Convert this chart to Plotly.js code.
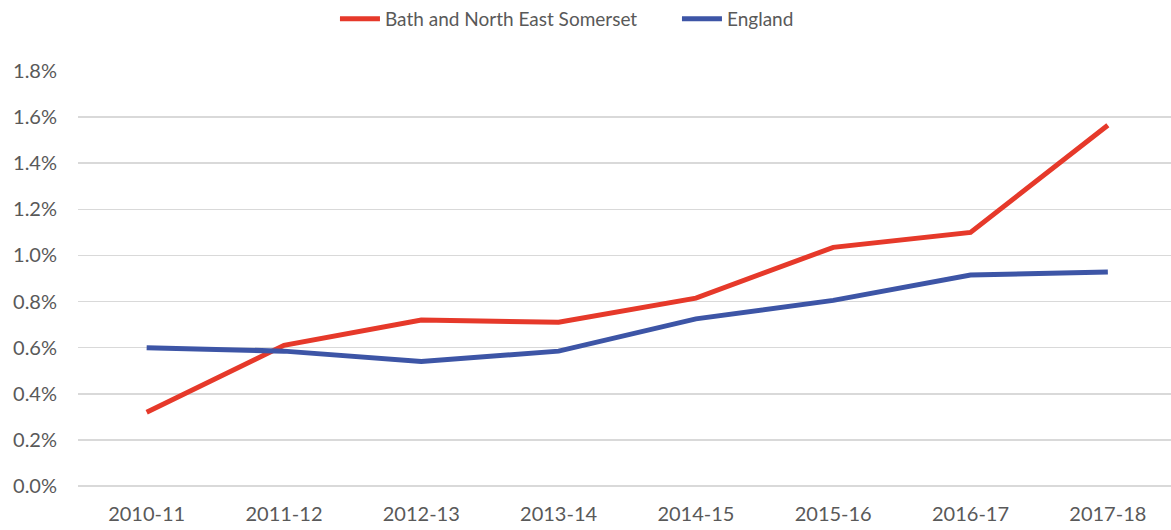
<!DOCTYPE html>
<html>
<head>
<meta charset="utf-8">
<script src="https://cdn.plot.ly/plotly-3.0.1.min.js"></script>
<style>html,body{margin:0;padding:0;background:#fff;}#chart{width:1171px;height:530px;}</style>
</head>
<body>
<div id="chart"></div>
<script>
const years = ["2010-11","2011-12","2012-13","2013-14","2014-15","2015-16","2016-17","2017-18"];
const bathValues = [0.0032,0.0061,0.0072,0.0071,0.00815,0.01035,0.0110,0.01565];
const englandValues = [0.0060,0.00585,0.0054,0.00585,0.00725,0.00805,0.00915,0.00928];
const yTicks = [0,0.002,0.004,0.006,0.008,0.010,0.012,0.014,0.016,0.018];

const font = {family: "Lato, 'Open Sans', sans-serif", size: 20, color: "#595959"};
const legendFont = {family: "Lato, 'Open Sans', sans-serif", size: 19, color: "#595959"};
const traces = [
  {x: years, y: bathValues, name: "Bath and North East Somerset", type: "scatter", mode: "lines",
   line: {color: "#E6392A", width: 5}},
  {x: years, y: englandValues, name: "England", type: "scatter", mode: "lines",
   line: {color: "#3D55A6", width: 5}}
];
const layout = {
  width: 1171, height: 530,
  margin: {l: 78, r: 0, t: 71, b: 44},
  paper_bgcolor: "#fff", plot_bgcolor: "#fff",
  font: font,
  showlegend: true,
  legend: {orientation: "h", x: 0.2351, xanchor: "left", y: 1, yref: "container", yanchor: "top",
           font: legendFont, traceorder: "normal", itemwidth: 40, entrywidth: 287},
  xaxis: {type: "category", range: [-0.5, 7.46], showgrid: false, zeroline: false, showline: false,
          ticks: "", tickfont: font, ticklabelstandoff: 14, fixedrange: true},
  yaxis: {range: [0, 0.018], tickvals: yTicks, tickformat: ".1%", showgrid: true, gridcolor: "#D9D9D9",
          gridwidth: 1.5, zeroline: true, zerolinecolor: "#D9D9D9", zerolinewidth: 1.5, showline: false,
          ticks: "", tickfont: font, ticklabelstandoff: 20, fixedrange: true}
};
Plotly.newPlot("chart", traces, layout, {displayModeBar: false, staticPlot: true});
</script>
</body>
</html>
